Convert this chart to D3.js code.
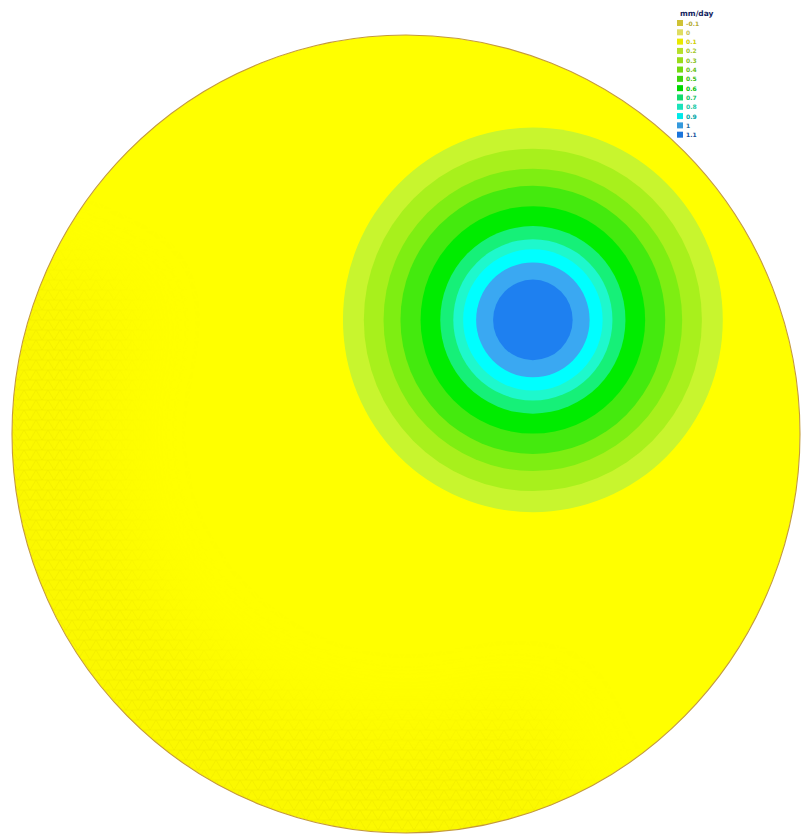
<!DOCTYPE html>
<html>
<head>
<meta charset="utf-8">
<script src="https://cdn.jsdelivr.net/npm/d3@7"></script>
<style>
  html, body { margin: 0; padding: 0; background: #ffffff; }
  svg { display: block; }
</style>
</head>
<body>
<svg id="chart" width="803" height="835"></svg>
<script>
// Contour levels, listed in legend order (top to bottom)
const levelLabels = ["-0.1", "0", "0.1", "0.2", "0.3", "0.4", "0.5", "0.6", "0.7", "0.8", "0.9", "1", "1.1"];
const levelColors = ["#e2d43a", "#f4f26a", "#ffff00", "#c8f52e", "#a8f01c", "#7eee12",
                     "#44ea0e", "#00ec00", "#16f078", "#1ef8cc", "#00ffff", "#3aa8f2", "#1e80f0"];

// Level that fills the rest of the domain
const backgroundLevel = 2;
// Outer radius of each closed contour band (domain radius = 1), for levels 0.2 … 1.1
const bandLevels = [3, 4, 5, 6, 7, 8, 9, 10, 11, 12];
const bandRadius = [0.482, 0.429, 0.379, 0.336, 0.285, 0.235, 0.202, 0.177, 0.144, 0.101];
// Centre of the anomaly, in domain coordinates
const anomalyCenter = [0.322, 0.286];
const unitLabel = "mm/day";

const svg = d3.select("#chart");
const defs = svg.append("defs");

// Domain coordinates [-1, 1] mapped onto the page
const x = d3.scaleLinear().domain([-1, 1]).range([12, 800]);
const y = d3.scaleLinear().domain([-1, 1]).range([833, 35]);
const rx = r => x(r) - x(0);
const ry = r => y(0) - y(r);

// Clip everything to the circular domain
defs.append("clipPath").attr("id", "domain-clip")
  .append("ellipse")
  .attr("cx", x(0)).attr("cy", y(0))
  .attr("rx", rx(1)).attr("ry", ry(1));

const field = svg.append("g").attr("clip-path", "url(#domain-clip)");

// Background level fills the whole domain
field.append("ellipse")
  .attr("cx", x(0)).attr("cy", y(0))
  .attr("rx", rx(1)).attr("ry", ry(1))
  .attr("fill", levelColors[backgroundLevel]);

// Faint element mesh visible along the lower-left rim
const mesh = defs.append("pattern")
  .attr("id", "mesh").attr("patternUnits", "userSpaceOnUse")
  .attr("width", 12).attr("height", 10);
mesh.append("path")
  .attr("d", "M0,0H12M0,10H12M0,0L6,10L12,0")
  .attr("fill", "none").attr("stroke", "#d2c600").attr("stroke-width", 0.6);

// Soft-edged mask for the meshed band
defs.append("filter").attr("id", "feather")
  .attr("x", "-50%").attr("y", "-50%").attr("width", "200%").attr("height", "200%")
  .append("feGaussianBlur").attr("stdDeviation", 35);

const sector = d3.arc()
  .innerRadius(300).outerRadius(460)
  .startAngle(-205 * Math.PI / 180).endAngle(-65 * Math.PI / 180);
const rimMask = defs.append("mask").attr("id", "rim-mask")
  .attr("maskUnits", "userSpaceOnUse")
  .attr("x", 0).attr("y", 0).attr("width", 803).attr("height", 835);
rimMask.append("path")
  .attr("transform", `translate(${x(0)},${y(0)})`)
  .attr("d", sector())
  .attr("fill", "#ffffff")
  .attr("filter", "url(#feather)");

const rim = field.append("g").attr("mask", "url(#rim-mask)");
rim.append("rect").attr("x", 0).attr("y", 0).attr("width", 803).attr("height", 835)
  .attr("fill", "#efe400").attr("opacity", 0.25);
rim.append("rect").attr("x", 0).attr("y", 0).attr("width", 803).attr("height", 835)
  .attr("fill", "url(#mesh)").attr("opacity", 0.3);

// Closed contour bands around the anomaly, largest first
const bands = bandLevels.map((lvl, i) => ({ level: lvl, r: bandRadius[i] }));
field.selectAll("ellipse.band")
  .data(bands)
  .join("ellipse")
  .attr("class", "band")
  .attr("cx", x(anomalyCenter[0]))
  .attr("cy", y(anomalyCenter[1]))
  .attr("rx", d => rx(d.r))
  .attr("ry", d => ry(d.r))
  .attr("fill", d => levelColors[d.level]);

// Domain boundary
svg.append("ellipse")
  .attr("cx", x(0)).attr("cy", y(0))
  .attr("rx", rx(1)).attr("ry", ry(1))
  .attr("fill", "none")
  .attr("stroke", "#c49a3a")
  .attr("stroke-width", 1.1);

// Legend
const legend = svg.append("g").attr("transform", "translate(677,0)");
legend.append("text")
  .attr("x", 3).attr("y", 16)
  .attr("font-family", "DejaVu Sans, sans-serif")
  .attr("font-size", 7.5).attr("font-weight", "bold")
  .attr("fill", "#14245e")
  .text(unitLabel);

const ly = d3.scaleBand()
  .domain(levelLabels)
  .range([20, 141]);

const rows = legend.selectAll("g.row")
  .data(levelLabels)
  .join("g")
  .attr("class", "row")
  .attr("transform", d => `translate(0,${ly(d)})`);

rows.append("rect")
  .attr("width", 6).attr("height", 6)
  .attr("fill", (d, i) => d3.color(levelColors[i]).darker(0.25));

rows.append("text")
  .attr("x", 9).attr("y", 5.5)
  .attr("font-family", "DejaVu Sans, sans-serif")
  .attr("font-size", 6).attr("font-weight", "bold")
  .attr("fill", (d, i) => d3.color(levelColors[i]).darker(i > 9 ? 1.2 : 0.6))
  .text(d => d);
</script>
</body>
</html>
